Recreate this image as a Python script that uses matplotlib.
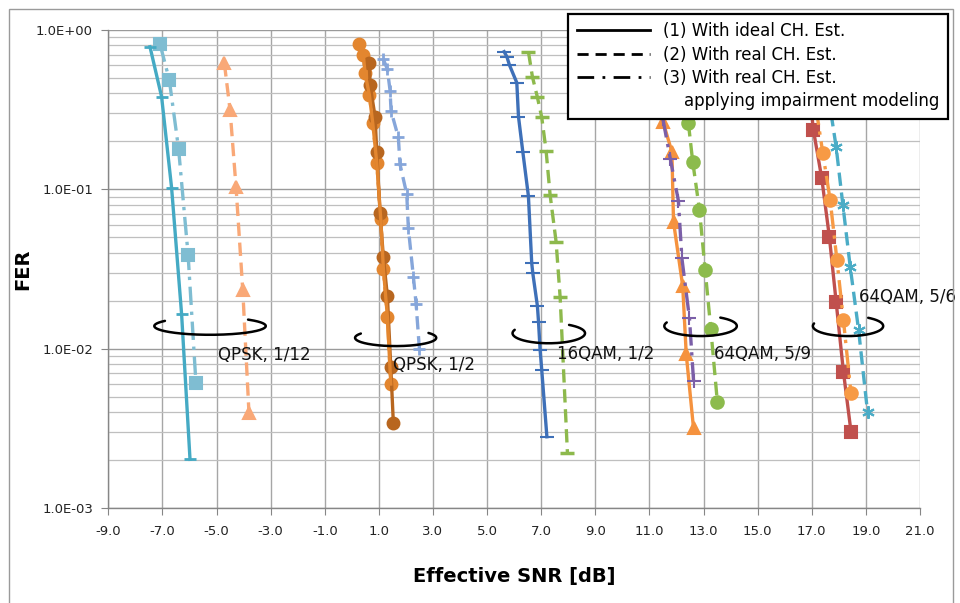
import numpy as np
import matplotlib
matplotlib.use("Agg")
import matplotlib.pyplot as plt
from matplotlib.lines import Line2D
from matplotlib.patches import Rectangle
from matplotlib.ticker import FixedLocator, LogLocator, NullFormatter, FuncFormatter

# ---------------- data ----------------
# QPSK 1/12
q12_ideal_x = [-7.46, -7.03, -6.66, -6.29, -5.98]
q12_ideal_y = [0.785, 0.381, 0.102, 0.0164, 0.00202]
q12_imp_x = [-7.09, -6.745, -6.40, -6.05, -5.76]
q12_imp_y = [0.817, 0.486, 0.178, 0.0387, 0.00605]
q12_real_x = [-4.71, -4.50, -4.28, -4.03, -3.80]
q12_real_y = [0.618, 0.315, 0.104, 0.0233, 0.00393]

# QPSK 1/2
q2_ideal_x = [0.649, 0.675, 0.86, 0.922, 1.045, 1.167, 1.315, 1.44, 1.536]
q2_ideal_y = [0.618, 0.452, 0.286, 0.172, 0.0707, 0.0374, 0.0214, 0.00769, 0.0034]
q2_imp_x = [0.279, 0.427, 0.49, 0.649, 0.774, 0.922, 1.07, 1.167, 1.315, 1.44]
q2_imp_y = [0.817, 0.697, 0.535, 0.391, 0.26, 0.147, 0.0648, 0.0315, 0.0159, 0.006]
q2_real_x = [1.167, 1.315, 1.414, 1.45, 1.72, 1.78, 2.03, 2.09, 2.276, 2.375, 2.497]
q2_real_y = [0.654, 0.567, 0.416, 0.311, 0.212, 0.144, 0.0934, 0.0569, 0.0283, 0.0192, 0.0100]

# 16QAM 1/2
qam16_ideal_x = [5.63, 5.73, 5.826, 6.098, 6.16, 6.32, 6.527, 6.65, 6.69, 6.86, 6.90, 6.96, 7.02, 7.21]
qam16_ideal_y = [0.731, 0.68, 0.603, 0.467, 0.286, 0.172, 0.0908, 0.0343, 0.0297, 0.0185, 0.0148,
                 0.0098, 0.00734, 0.0028]
qam16_real_x = [6.527, 6.675, 6.86, 7.02, 7.18, 7.33, 7.55, 7.70, 7.97]
qam16_real_y = [0.731, 0.509, 0.378, 0.283, 0.175, 0.092, 0.0469, 0.021, 0.0022]

# 64QAM 5/9
qam59_ideal_x = [11.50, 11.83, 11.89, 12.23, 12.36, 12.63]
qam59_ideal_y = [0.266, 0.172, 0.0626, 0.0247, 0.00925, 0.00316]
qam59_imp_x = [11.50, 11.77, 12.07, 12.20, 12.48, 12.63]
qam59_imp_y = [0.275, 0.156, 0.0849, 0.0369, 0.0155, 0.00629]
qam59_real_x = [12.44, 12.60, 12.85, 13.06, 13.27, 13.51]
qam59_real_y = [0.26, 0.149, 0.0742, 0.0311, 0.0132, 0.00464]

# 64QAM 5/6
qam56_ideal_x = [16.95, 17.06, 17.37, 17.65, 17.90, 18.17, 18.45]
qam56_ideal_y = [0.35, 0.236, 0.117, 0.0504, 0.0197, 0.00716, 0.00301]
qam56_imp_x = [17.15, 17.41, 17.68, 17.93, 18.17, 18.45]
qam56_imp_y = [0.33, 0.168, 0.0857, 0.036, 0.0151, 0.00524]
qam56_real_x = [17.6, 17.90, 18.15, 18.42, 18.73, 19.06]
qam56_real_y = [0.40, 0.185, 0.0797, 0.0327, 0.0131, 0.00402]

# group rings (center x [dB], center FER, half width [dB], half height [decades], arc start, arc end)
ring_cx = [-5.24, 1.62, 7.28, 12.89, 18.34]
ring_cy = [0.01387, 0.0117, 0.0125, 0.01387, 0.01387]
ring_a = [2.06, 1.50, 1.34, 1.34, 1.30]
ring_b = [0.055, 0.052, 0.063, 0.063, 0.063]
ring_t1 = [144, 149, 160, 159, 165]
ring_t2 = [407, 396, 416, 417, 415]

group_labels = ["QPSK, 1/12", "QPSK, 1/2", "16QAM, 1/2", "64QAM, 5/9", "64QAM, 5/6"]
label_x = [-4.94, 1.52, 7.59, 13.39, 18.75]
label_y = [0.00912, 0.0079, 0.00925, 0.00925, 0.0211]

x_ticks = [-9.0, -7.0, -5.0, -3.0, -1.0, 1.0, 3.0, 5.0, 7.0, 9.0, 11.0, 13.0, 15.0, 17.0, 19.0, 21.0]
y_ticks = [1e-3, 1e-2, 1e-1, 1e0]
y_tick_labels = ["1.0E-03", "1.0E-02", "1.0E-01", "1.0E+00"]

legend_labels = ["(1) With ideal CH. Est.", "(2) With real CH. Est.", "(3) With real CH. Est.",
                 "    applying impairment modeling"]

# ---------------- figure ----------------
fig = plt.figure(figsize=(9.6, 6.03), dpi=100)
ax = fig.add_axes([108.3 / 960, 1 - 508 / 603, (920 - 108.3) / 960, (508 - 30) / 603])

ax.set_yscale("log")
ax.set_xlim(-9, 21)
ax.set_ylim(1e-3, 1e0)

LW = 2.4
dash = (0, (4.0, 2.0))
dashdot = (0, (5.5, 2.0, 1.0, 2.0))

def draw(x, y, color, ls, marker, ms=8, mew=1.5, **kw):
    ax.plot(x, y, color=color, linestyle=ls, linewidth=LW, marker=marker, markersize=ms,
            markeredgewidth=mew, markerfacecolor=color, markeredgecolor=color, zorder=3, **kw)

# QPSK 1/12
draw(q12_imp_x, q12_imp_y, "#7FBDD2", dashdot, "s", ms=8)
draw(q12_real_x, q12_real_y, "#F9A877", dash, "^", ms=8)
draw(q12_ideal_x, q12_ideal_y, "#45AAC4", "-", "_", ms=8, mew=2)

# QPSK 1/2
draw(q2_real_x, q2_real_y, "#86A6DA", dash, "+", ms=9, mew=2)
draw(q2_imp_x, q2_imp_y, "#E3862F", dashdot, "o", ms=8.5)
draw(q2_ideal_x, q2_ideal_y, "#B8661F", "-", "o", ms=8.5)
ax.plot(q2_imp_x, q2_imp_y, color="#E3862F", linestyle="-", linewidth=LW, zorder=3.1)

# 16QAM 1/2
draw(qam16_real_x, qam16_real_y, "#8DB94C", dash, "_", ms=10, mew=2.5)
draw(qam16_ideal_x, qam16_ideal_y, "#3E70B8", "-", "_", ms=10, mew=1.5)

# 64QAM 5/9
draw(qam59_real_x, qam59_real_y, "#8CBB4C", dash, "o", ms=9)
draw(qam59_ideal_x, qam59_ideal_y, "#F5923E", "-", "^", ms=8)
draw(qam59_imp_x, qam59_imp_y, "#7B5FA8", dashdot, "+", ms=10, mew=1.5)

# 64QAM 5/6
draw(qam56_real_x, qam56_real_y, "#4BACC6", dash, (6, 2, 0), ms=9, mew=1.5)
draw(qam56_ideal_x, qam56_ideal_y, "#C0504D", "-", "s", ms=8)
draw(qam56_imp_x, qam56_imp_y, "#F79A45", dashdot, "o", ms=9)

# rings
for cx, cy, a, b, t1, t2 in zip(ring_cx, ring_cy, ring_a, ring_b, ring_t1, ring_t2):
    t = np.radians(np.linspace(t1, t2, 200))
    ax.plot(cx + a * np.cos(t), cy * 10 ** (b * np.sin(t)), color="black", linewidth=1.8,
            zorder=4, solid_capstyle="round")

# labels
for lab, lx, ly in zip(group_labels, label_x, label_y):
    ax.text(lx, ly, lab, fontsize=12, color="#111111", ha="left", va="center", zorder=5,
            family="DejaVu Sans", clip_on=False)

# axes styling
ax.xaxis.set_major_locator(FixedLocator(x_ticks))
ax.xaxis.set_major_formatter(FuncFormatter(lambda v, p: f"{v:.1f}"))
ax.yaxis.set_major_locator(FixedLocator(y_ticks))
ax.set_yticklabels(y_tick_labels)
ax.yaxis.set_minor_locator(LogLocator(base=10, subs=np.arange(2, 10)))
ax.yaxis.set_minor_formatter(NullFormatter())

ax.grid(True, which="major", axis="x", color="#A6A6A6", linewidth=1.0)
ax.grid(True, which="major", axis="y", color="#9A9A9A", linewidth=1.0)
ax.grid(True, which="minor", axis="y", color="#BFBFBF", linewidth=0.9)
ax.set_axisbelow(True)

for s in ["top", "right"]:
    ax.spines[s].set_visible(False)
for s in ["left", "bottom"]:
    ax.spines[s].set_color("#868686")
    ax.spines[s].set_linewidth(1.0)

ax.tick_params(axis="both", which="major", direction="out", length=5, color="#868686",
               labelsize=9.5, labelcolor="#222222")
ax.tick_params(axis="y", which="minor", length=0)
ax.tick_params(axis="x", pad=7)
ax.tick_params(axis="y", pad=6)

ax.set_xlabel("Effective SNR [dB]", fontsize=14, fontweight="bold")
ax.xaxis.set_label_coords(0.5, -(567 - 508) / 478, transform=ax.transAxes)
ax.set_ylabel("FER", fontsize=14, fontweight="bold")
ax.yaxis.set_label_coords(-(108.3 - 32) / 811.7, 0.5, transform=ax.transAxes)

# legend
handles = [
    Line2D([], [], color="black", linewidth=2, linestyle="-"),
    Line2D([], [], color="black", linewidth=2, linestyle=(0, (4, 2.5))),
    Line2D([], [], color="black", linewidth=2, linestyle=(0, (6, 3, 1, 3))),
    Line2D([], [], color="none"),
]
leg = fig.legend(handles, legend_labels, loc="upper right",
                 bbox_to_anchor=(948 / 960, 1 - 14 / 603), fontsize=12, frameon=True,
                 fancybox=False, framealpha=1, edgecolor="black", handlelength=4.4,
                 handletextpad=0.8, labelspacing=0.32, borderpad=0.5, borderaxespad=0)
leg.get_frame().set_linewidth(1.6)
leg.set_zorder(10)

# chart border
fig.patches.append(Rectangle((9 / 960, -0.01), (953 - 9) / 960, 1 - 9 / 603 + 0.01,
                             transform=fig.transFigure, fill=False, edgecolor="#9A9A9A",
                             linewidth=1.0, zorder=0))

fig.savefig("out.png", dpi=100)
